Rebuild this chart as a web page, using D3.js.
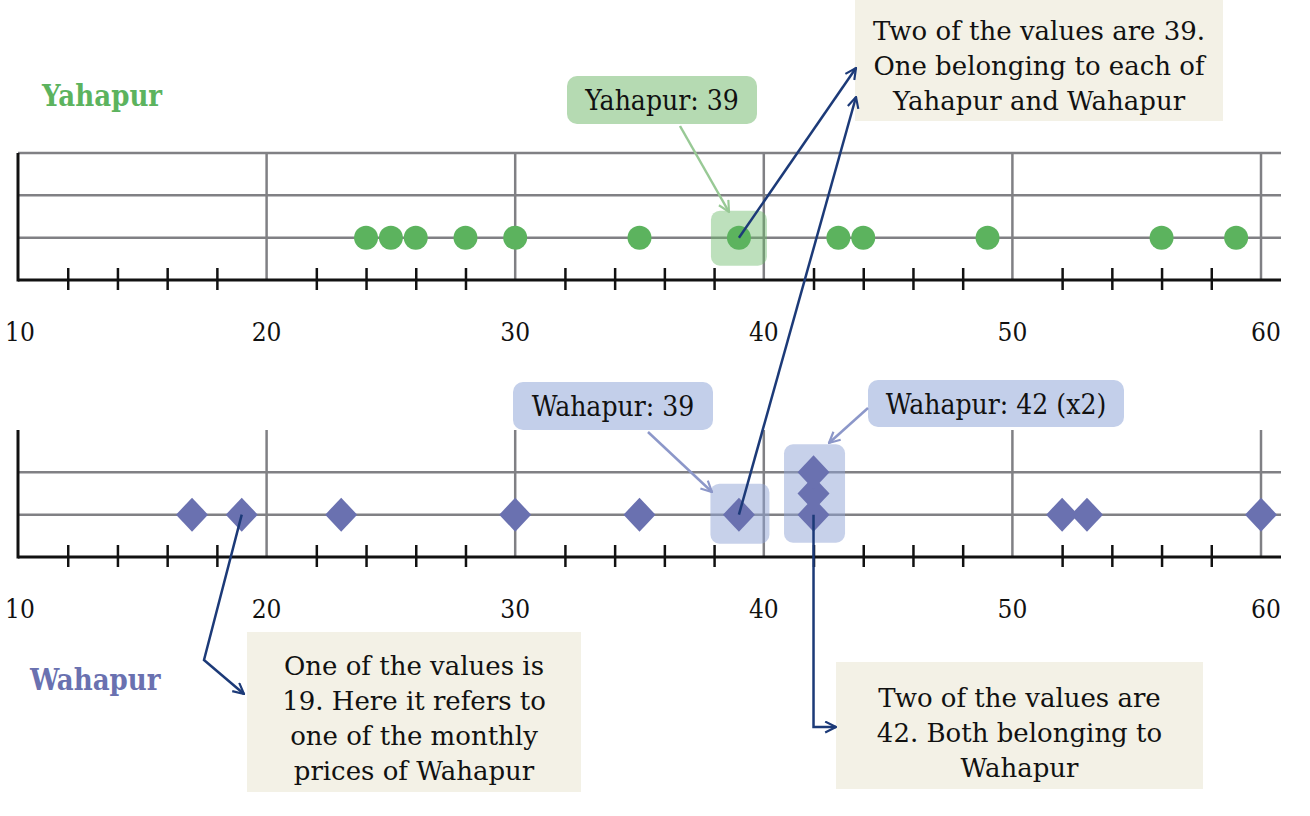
<!DOCTYPE html>
<html>
<head>
<meta charset="utf-8">
<script src="https://cdn.jsdelivr.net/npm/d3@7"></script>
<style>
  body { margin: 0; background: #fff; }
  svg { display: block; }
</style>
</head>
<body>
<div id="chart"></div>
<script>
var yahapurValues = [24, 25, 26, 28, 30, 35, 39, 43, 44, 49, 56, 59];
var wahapurValues = [17, 19, 23, 30, 35, 39, 42, 42, 42, 52, 53, 60];
var wahapurLevels = [0, 0, 0, 0, 0, 0, 0, 0.5, 1, 0, 0, 0];
var majorTicks = [10, 20, 30, 40, 50, 60];
var minorTicks = [12, 14, 16, 18, 22, 24, 26, 28, 32, 34, 36, 38, 42, 44, 46, 48, 52, 54, 56, 58];

var width = 1310, height = 816;
var serif = "'DejaVu Serif', serif";
var serifC = "'DejaVu Serif Condensed', 'DejaVu Serif', serif";
var green = "#5cb35e", blue = "#6a71b0", navy = "#1c3a78";

var svg = d3.select("#chart").append("svg")
    .attr("width", width)
    .attr("height", height);

var defs = svg.append("defs");
function marker(id, color) {
    defs.append("marker")
        .attr("id", id)
        .attr("viewBox", "0 0 12 12")
        .attr("refX", 11).attr("refY", 6)
        .attr("markerWidth", 13).attr("markerHeight", 13)
        .attr("markerUnits", "userSpaceOnUse")
        .attr("orient", "auto")
        .append("path")
        .attr("d", "M1,1 L11,6 L1,11")
        .attr("fill", "none")
        .attr("stroke", color)
        .attr("stroke-width", 2);
}
marker("arrNavy", navy);
marker("arrGreen", "#98c995");
marker("arrBlue", "#8c97c9");

var x = d3.scaleLinear().domain([10, 60]).range([18, 1261]);

// one panel = a strip of rows; row -1 is the axis line
function drawPanel(top, topLine) {
    var y = d3.scaleLinear().domain([-1, 2]).range([top + 127, top]);
    var g = svg.append("g");

    var rows = topLine ? [0, 1, 2] : [0, 1];
    g.selectAll(".row").data(rows).enter().append("line")
        .attr("x1", x(10)).attr("x2", 1281)
        .attr("y1", function(d) { return y(d); })
        .attr("y2", function(d) { return y(d); })
        .attr("stroke", "#808084").attr("stroke-width", 2.5);

    g.selectAll(".grid").data(majorTicks.slice(1)).enter().append("line")
        .attr("x1", function(d) { return x(d); })
        .attr("x2", function(d) { return x(d); })
        .attr("y1", y(2)).attr("y2", y(-1))
        .attr("stroke", "#808084").attr("stroke-width", 2.5);

    var axis = d3.axisBottom(x)
        .tickValues(minorTicks)
        .tickSize(12)
        .tickFormat("");
    var ag = g.append("g")
        .attr("transform", "translate(0," + y(-1) + ")")
        .call(axis);
    ag.select(".domain").remove();
    ag.selectAll(".tick line")
        .attr("y1", -12).attr("y2", 10)
        .attr("stroke", "#111").attr("stroke-width", 2.5);

    g.append("line")
        .attr("x1", x(10)).attr("x2", 1281)
        .attr("y1", y(-1)).attr("y2", y(-1))
        .attr("stroke", "#111").attr("stroke-width", 3);
    g.append("line")
        .attr("x1", x(10)).attr("x2", x(10))
        .attr("y1", y(2)).attr("y2", y(-1) + 1.5)
        .attr("stroke", "#111").attr("stroke-width", 3);

    g.selectAll(".lab").data(majorTicks).enter().append("text")
        .attr("x", function(d) { return x(d); })
        .attr("y", y(-1) + 61)
        .attr("text-anchor", function(d) { return d === 10 ? "start" : "middle"; })
        .attr("dx", function(d) { return d === 10 ? -13 : (d === 60 ? 5 : 0); })
        .style("font-family", serifC)
        .style("font-size", "26px")
        .attr("fill", "#111")
        .text(function(d) { return d; });
    return y;
}

var yTop = drawPanel(153, true);
var yBot = drawPanel(430, false);

// highlight boxes
function hbox(cx, y0, y1, w, fill, op) {
    svg.append("rect")
        .attr("x", cx - w / 2).attr("y", y0)
        .attr("width", w).attr("height", y1 - y0)
        .attr("rx", 9)
        .attr("fill", fill).attr("opacity", op);
}
hbox(x(39), yTop(0) - 27, yTop(0) + 28, 56, "#6dbb6a", 0.45);
hbox(x(39) + 1, yBot(0) - 31, yBot(0) + 29, 59, "#8fa3d6", 0.5);
hbox(x(42) + 1, yBot(1) - 28, yBot(0) + 28, 61, "#8fa3d6", 0.5);

// points
svg.append("g").selectAll("circle").data(yahapurValues).enter().append("circle")
    .attr("cx", function(d) { return x(d); })
    .attr("cy", yTop(0))
    .attr("r", 12)
    .attr("fill", green);

svg.append("g").selectAll("path").data(wahapurValues).enter().append("path")
    .attr("transform", function(d, i) {
        return "translate(" + x(d) + "," + yBot(wahapurLevels[i]) + ")";
    })
    .attr("d", "M0,-17 L16,0 L0,17 L-16,0 Z")
    .attr("fill", blue);

// series labels
svg.append("text").attr("x", 42).attr("y", 106)
    .style("font-family", serifC).style("font-size", "29px").style("font-weight", "bold")
    .attr("fill", green).text("Yahapur");
svg.append("text").attr("x", 30).attr("y", 690)
    .style("font-family", serifC).style("font-size", "29px").style("font-weight", "bold")
    .attr("fill", blue).text("Wahapur");

// callout labels
function callout(x0, y0, w, h, fill, txt) {
    svg.append("rect")
        .attr("x", x0).attr("y", y0).attr("width", w).attr("height", h)
        .attr("rx", 10).attr("fill", fill);
    svg.append("text")
        .attr("x", x0 + w / 2).attr("y", y0 + h / 2 + 10)
        .attr("text-anchor", "middle")
        .style("font-family", serifC).style("font-size", "28px")
        .attr("fill", "#111").text(txt);
}
callout(567, 76, 190, 48, "#b5dab2", "Yahapur: 39");
callout(513, 382, 200, 48, "#c3cfea", "Wahapur: 39");
callout(868, 380, 256, 47, "#c3cfea", "Wahapur: 42 (x2)");

function arrow(pts, color, mk, w) {
    svg.append("path")
        .attr("d", d3.line()(pts))
        .attr("fill", "none")
        .attr("stroke", color)
        .attr("stroke-width", w)
        .attr("marker-end", "url(#" + mk + ")");
}
arrow([[680, 126], [729, 212]], "#98c995", "arrGreen", 2.5);
arrow([[648, 432], [712, 492]], "#8c97c9", "arrBlue", 2.5);
arrow([[868, 408], [829, 443]], "#8c97c9", "arrBlue", 2.5);

// note boxes
function note(x0, y0, w, h, lines, firstY) {
    svg.append("rect")
        .attr("x", x0).attr("y", y0).attr("width", w).attr("height", h)
        .attr("fill", "#f3f1e6");
    svg.append("g").selectAll("text").data(lines).enter().append("text")
        .attr("x", x0 + w / 2)
        .attr("y", function(d, i) { return firstY + i * 35; })
        .attr("text-anchor", "middle")
        .style("font-family", serif).style("font-size", "26px")
        .attr("fill", "#111")
        .text(function(d) { return d; });
}
note(855, 0, 368, 121, ["Two of the values are 39.", "One belonging to each of", "Yahapur and Wahapur"], 40);
note(247, 632, 334, 160, ["One of the values is", "19. Here it refers to", "one of the monthly", "prices of Wahapur"], 675);
note(836, 662, 367, 127, ["Two of the values are", "42. Both belonging to", "Wahapur"], 707);

arrow([[x(39), yTop(0)], [856, 68]], navy, "arrNavy", 2.5);
arrow([[x(39), yBot(0)], [856, 97]], navy, "arrNavy", 2.5);
arrow([[x(19), yBot(0)], [204, 660], [244, 694]], navy, "arrNavy", 2.5);
arrow([[x(42), yBot(0)], [x(42), 727], [836, 727]], navy, "arrNavy", 2.5);
</script>
</body>
</html>
